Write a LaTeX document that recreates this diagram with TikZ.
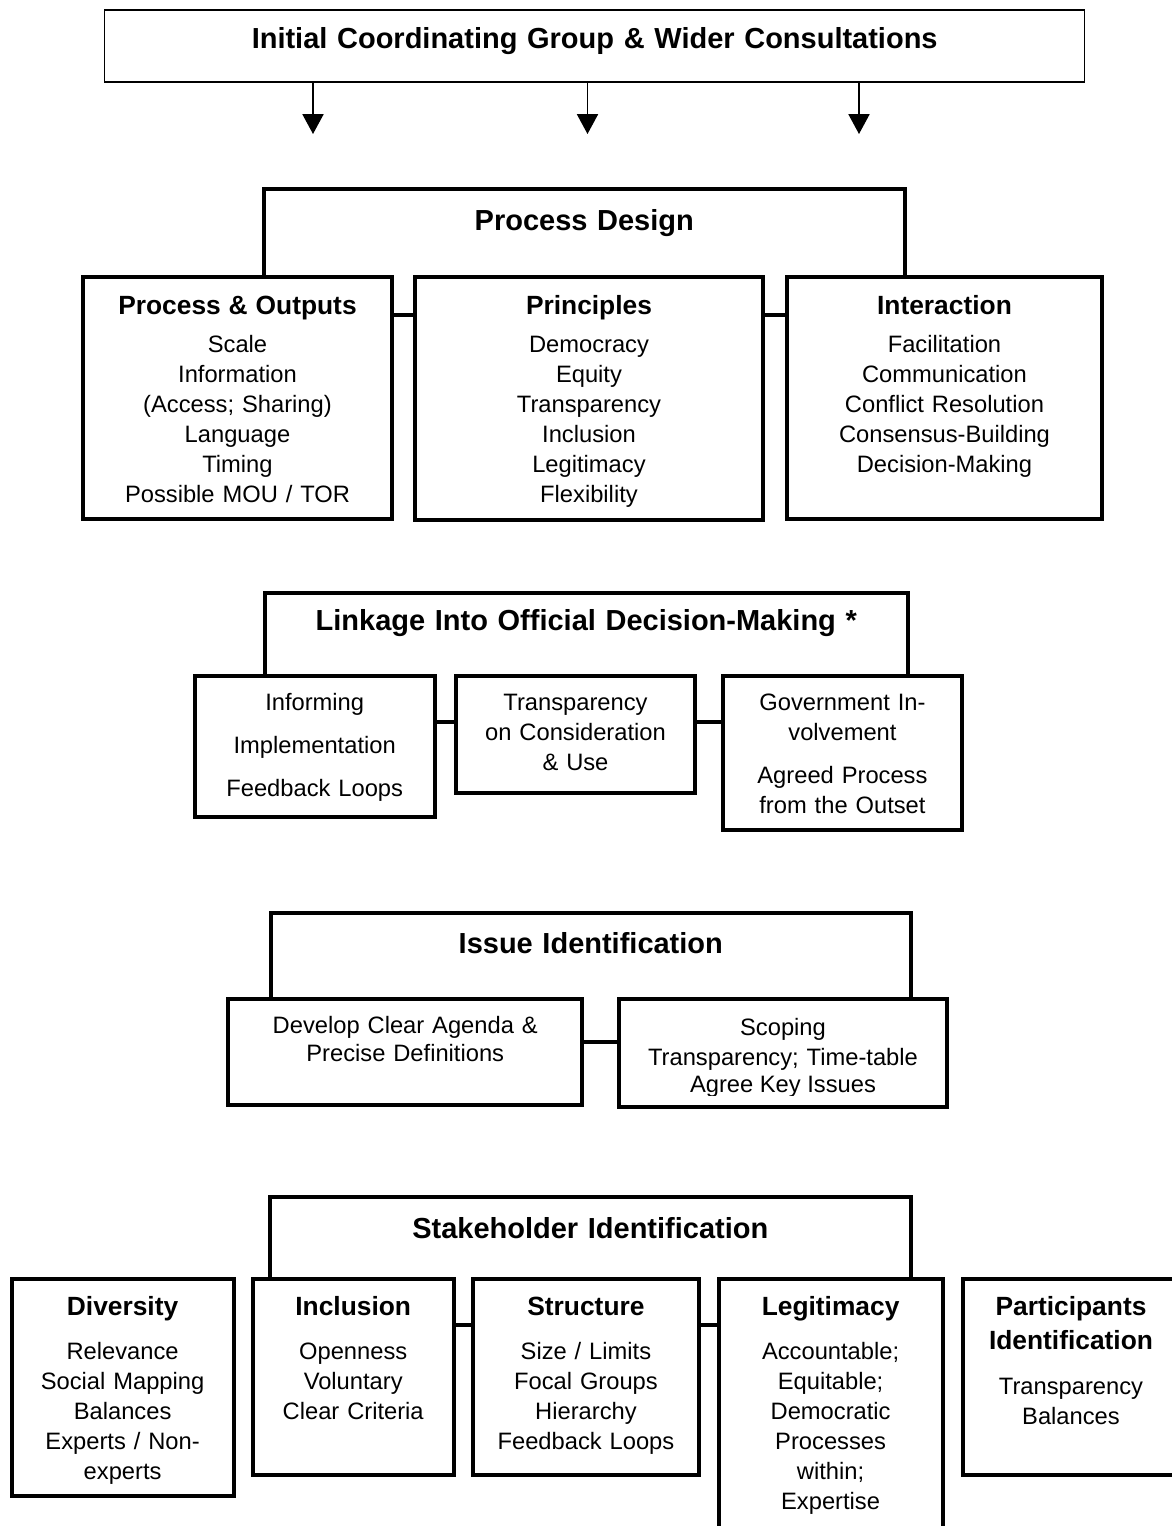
\documentclass[tikz,border=0pt]{standalone}
\usepackage{fontspec}
\setmainfont{Liberation Sans}
\usetikzlibrary{arrows.meta}
\tikzset{
  thickline/.style={line width=2.3pt},
  panel/.style n args={3}{draw, thickline, inner sep=0pt, anchor=north west,
    text width=#1, align=center, text height=#2, text depth=#3,
    font=\fontsize{13.5}{17.07}\selectfont},
  banner/.style n args={3}{inner sep=0pt, anchor=north west,
    text width=#1, align=center, text height=#2, text depth=#3,
    font=\bfseries\fontsize{16.5}{20}\selectfont},
}
\newcommand{\boxtitle}[1]{{\bfseries\fontsize{15}{17.07}\selectfont #1}}

\begin{document}
\begin{tikzpicture}[x=0.02cm, y=-0.02cm, >={Triangle[width=12pt, length=11.3pt]}]

  \useasboundingbox (0,0) rectangle (1172,1526);

  % top box and arrows
  \node[draw, line width=0.85pt, inner sep=0pt, anchor=north west,
    text width=19.6cm, align=center, text height=22.2pt, text depth=18.8pt,
    font=\bfseries\fontsize{16.5}{20}\selectfont] (top) at (104,9)
    {Initial Coordinating Group \& Wider Consultations};
  \coordinate (a1) at (313,134);
  \coordinate (a2) at (587.5,134);
  \coordinate (a3) at (859,134);
  \foreach \a in {a1,a2,a3}
    \draw[->, line width=0.85pt] (top.south -| \a) -- (\a);

  % process design
  \node[banner={12.8cm}{23.3pt}{25.6pt}] (pd) at (264,189) {Process Design};
  \draw[thickline] (pd.south west) |- (pd.north east) -- (pd.south east);
  \node[panel={6.18cm}{21.05pt}{116.7pt}] (po) at (81,275)
    {\boxtitle{Process \& Outputs}\\[5.1pt]
     Scale\\Information\\(Access; Sharing)\\Language\\Timing\\Possible MOU / TOR};
  \node[panel={6.96cm}{21.05pt}{117.2pt}] (pr) at (413,275)
    {\boxtitle{Principles}\\[5.1pt]
     Democracy\\Equity\\Transparency\\Inclusion\\Legitimacy\\Flexibility};
  \node[panel={6.3cm}{21.05pt}{116.7pt}] (ia) at (785,275)
    {\boxtitle{Interaction}\\[5.1pt]
     Facilitation\\Communication\\Conflict Resolution\\Consensus-Building\\Decision-Making};

  % linkage
  \node[banner={12.84cm}{21.05pt}{25pt}] (lk) at (265,593)
    {Linkage Into Official Decision-Making *};
  \draw[thickline] (lk.south west) |- (lk.north east) -- (lk.south east);
  \node[panel={4.8cm}{19.35pt}{60.9pt}] (inf) at (192.7,674)
    {Informing\\[7.4pt]Implementation\\[7.4pt]Feedback Loops};
  \node[panel={4.78cm}{19.35pt}{47.2pt}] (tr) at (454,674)
    {Transparency\\on Consideration\\\& Use};
  \node[panel={4.79cm}{19.35pt}{68.3pt}] (gov) at (720.7,674)
    {Government In-\\volvement\\[7.4pt]Agreed Process\\from the Outset};

  % issue identification
  \node[banner={12.78cm}{22.8pt}{25pt}] (iss) at (271,913) {Issue Identification};
  \draw[thickline] (iss.south west) |- (iss.north east) -- (iss.south east);
  \node[panel={7.09cm}{19.7pt}{40.6pt}] (dev) at (226,997)
    {Develop Clear Agenda \&\\[-1pt]Precise Definitions};
  \node[panel={6.56cm}{20.5pt}{41pt}] (scoping) at (617,997)
    {Scoping\\Transparency; Time-table};
  \begin{scope}
    \clip (scoping.north west) rectangle ([yshift=0.27cm]scoping.south east);
    \node[anchor=base, font=\fontsize{13.5}{17.07}\selectfont] (agree)
      at ([yshift=-1.91cm]scoping.north) {Agree Key Issues};
  \end{scope}

  % stakeholder identification
  \node[banner={12.8cm}{23.3pt}{22.2pt}] (sh) at (270,1197) {Stakeholder Identification};
  \draw[thickline] (sh.south west) |- (sh.north east) -- (sh.south east);
  \node[panel={4.44cm}{20.5pt}{103pt}] (div) at (9.6,1277)
    {\boxtitle{Diversity}\\[8.5pt]
     Relevance\\Social Mapping\\Balances\\Experts / Non-\\experts};
  \node[panel={4.02cm}{20.5pt}{91pt}] (inc) at (250.7,1277)
    {\boxtitle{Inclusion}\\[8.5pt]
     Openness\\Voluntary\\Clear Criteria};
  \node[panel={4.53cm}{20.5pt}{91pt}] (str) at (470.7,1277)
    {\boxtitle{Structure}\\[8.5pt]
     Size / Limits\\Focal Groups\\Hierarchy\\Feedback Loops};
  \node[panel={4.48cm}{20.5pt}{132pt}] (leg) at (716.6,1277)
    {\boxtitle{Legitimacy}\\[8.5pt]
     Accountable;\\Equitable;\\Democratic\\Processes\\within;\\Expertise};
  \node[panel={4.32cm}{20.5pt}{91pt}] (part) at (961,1277)
    {\boxtitle{Participants}\\[2.3pt]\boxtitle{Identification}\\[8.5pt]
     Transparency\\Balances};

  % links between boxes
  \foreach \l/\r/\d in {po/pr/0.8, pr/ia/0.8, inf/tr/0.96, tr/gov/0.96,
      dev/scoping/0.9, inc/str/0.96, str/leg/0.96}
    \draw[thickline] ([yshift=-\d cm]\l.north east) -- ([yshift=-\d cm]\r.north west);

\end{tikzpicture}
\end{document}
